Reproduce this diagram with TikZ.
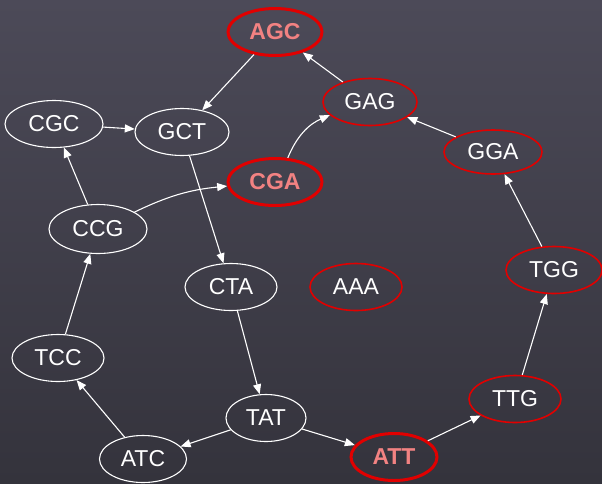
\documentclass[tikz,border=0pt]{standalone}
\usepackage{fontspec}
\setmainfont{Liberation Sans}
\usetikzlibrary{shapes.geometric,arrows.meta}
\definecolor{bgtop}{RGB}{76,74,88}
\definecolor{bgbot}{RGB}{52,51,60}
\definecolor{hired}{RGB}{225,0,0}
\definecolor{pinktxt}{RGB}{242,130,130}
\tikzset{
  seq/.style={ellipse, draw=white, line width=1.1pt, text=white, inner sep=0pt,
    minimum width=94pt, minimum height=47pt, font=\fontsize{23}{26}\selectfont},
  redseq/.style={seq, draw=hired, line width=1.6pt},
  keyseq/.style={seq, draw=hired, line width=3pt, text=pinktxt, font=\fontsize{23}{26}\selectfont\bfseries},
  arr/.style={draw=white, line width=1.1pt, -{Triangle[length=10pt,width=8pt]}}
}
\begin{document}
\begin{tikzpicture}[x=1pt,y=-1pt]
\shade[top color=bgtop, bottom color=bgbot] (0,0) rectangle (602,483);
\useasboundingbox (0,0) rectangle (602,483);
\node[keyseq] (AGC) at (275,32) {AGC};
\node[redseq] (GAG) at (370,102) {GAG};
\node[seq, minimum width=98pt] (CGC) at (54,124) {CGC};
\node[seq] (GCT) at (182,132) {GCT};
\node[keyseq] (CGA) at (275,182) {CGA};
\node[redseq, minimum width=98pt, minimum height=44pt] (GGA) at (493,152) {GGA};
\node[seq, minimum width=98pt, minimum height=49pt] (CCG) at (98,229) {CCG};
\node[seq, minimum width=92pt] (CTA) at (231,287) {CTA};
\node[redseq, minimum width=92pt] (AAA) at (356,287) {AAA};
\node[redseq, minimum width=96pt] (TGG) at (554,270) {TGG};
\node[seq, minimum width=92pt] (TCC) at (58,358) {TCC};
\node[redseq, minimum width=92pt] (TTG) at (515,399) {TTG};
\node[seq, minimum width=80pt] (TAT) at (266,418) {TAT};
\node[keyseq, minimum width=86pt] (ATT) at (394,457) {ATT};
\node[seq, minimum width=87pt] (ATC) at (143,459) {ATC};
\draw[arr] (GAG) -- (AGC);
\draw[arr] (AGC) -- (GCT);
\draw[arr] (CGC) -- (GCT);
\draw[arr] (GCT) -- (CTA);
\draw[arr] (CTA) -- (TAT);
\draw[arr] (CGA) to[bend left=22] (GAG);
\draw[arr] (CCG) to[bend left=10] (CGA);
\draw[arr] (CCG) -- (CGC);
\draw[arr] (TCC) -- (CCG);
\draw[arr] (ATC) -- (TCC);
\draw[arr] (TAT) -- (ATC);
\draw[arr] (TAT) -- (ATT);
\draw[arr] (ATT) -- (TTG);
\draw[arr] (TTG) -- (TGG);
\draw[arr] (TGG) -- (GGA);
\draw[arr] (GGA) -- (GAG);
\end{tikzpicture}
\end{document}
